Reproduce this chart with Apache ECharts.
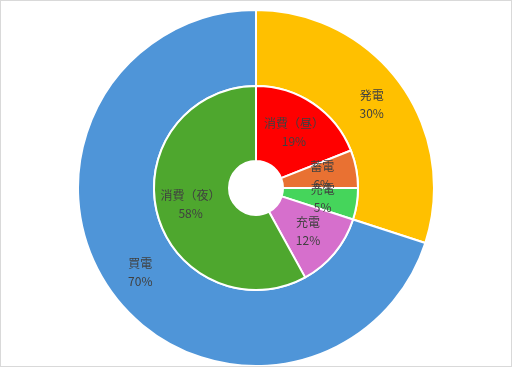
<!DOCTYPE html>
<html><head><meta charset="utf-8">
<script src="https://cdn.jsdelivr.net/npm/echarts@6/dist/echarts.min.js"></script>
<style>html,body{margin:0;padding:0;background:#fff}#c{width:512px;height:367px;box-sizing:border-box;border:1px solid #d9d9d9}</style>
</head><body><div id="c"></div>
<script>
const outerNames = ['発電', '買電'];
const outerValues = [30, 70];
const outerColors = ['#FFC000', '#4F95D8'];
const innerNames = ['消費（昼）', '蓄電', '売電', '充電', '消費（夜）'];
const innerValues = [19, 6, 5, 12, 58];
const innerColors = ['#FF0000', '#E97132', '#45D55B', '#D66FCC', '#4EA72E'];

const chart = echarts.init(document.getElementById('c'));
const labelStyle = {
  show: true, position: 'inside', formatter: '{b}\n{d}%',
  color: '#404040', fontSize: 12, lineHeight: 18,
  fontFamily: '"Noto Sans CJK JP", sans-serif'
};
chart.setOption({
  animation: false,
  series: [
    {
      type: 'pie', center: [255, 187], radius: [102, 178], startAngle: 90, clockwise: true,
      itemStyle: { borderColor: '#fff', borderWidth: 2 },
      label: labelStyle, labelLine: { show: false },
      data: outerNames.map((n, i) => ({ name: n, value: outerValues[i], itemStyle: { color: outerColors[i] } }))
    },
    {
      type: 'pie', center: [255, 187], radius: [27, 102], startAngle: 90, clockwise: true,
      itemStyle: { borderColor: '#fff', borderWidth: 2 },
      label: labelStyle, labelLine: { show: false },
      labelLayout: { hideOverlap: false },
      data: innerNames.map((n, i) => ({ name: n, value: innerValues[i], itemStyle: { color: innerColors[i] } }))
    }
  ]
});
</script></body></html>
